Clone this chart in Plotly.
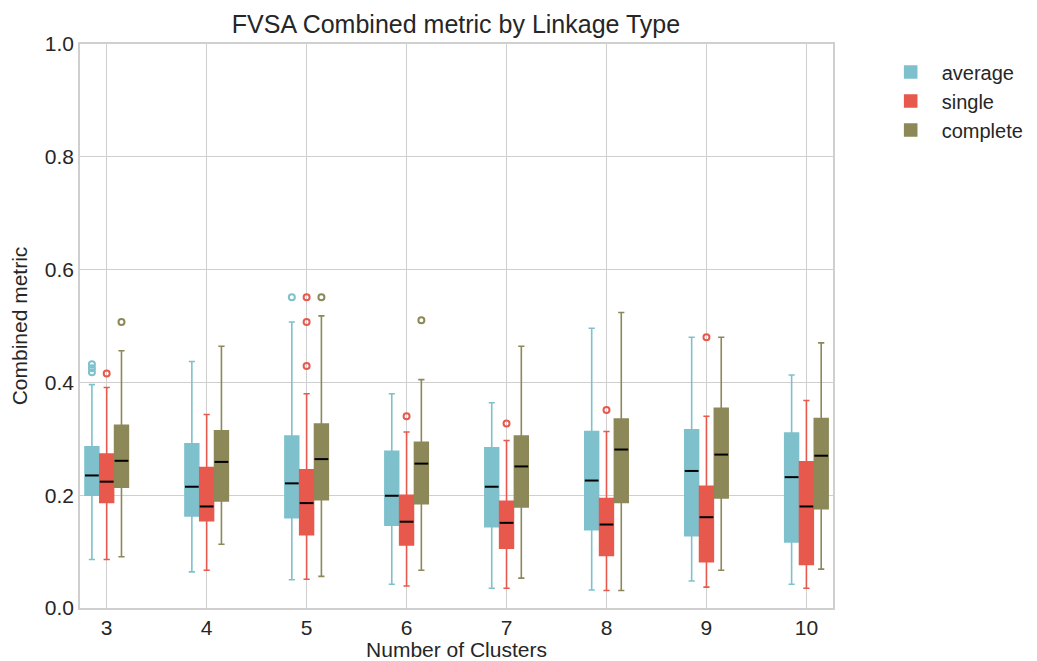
import plotly.graph_objects as go

clusters = [3, 4, 5, 6, 7, 8, 9, 10]
linkages = ["average", "single", "complete"]
colors = {"average": "#7EC1CD", "single": "#E8594D", "complete": "#8C8858"}

# five-number summaries per linkage (one value per cluster count)
avg_low = [0.086, 0.064, 0.050, 0.042, 0.035, 0.032, 0.048, 0.042]
avg_q1 = [0.200, 0.163, 0.160, 0.147, 0.144, 0.139, 0.128, 0.117]
avg_med = [0.235, 0.215, 0.221, 0.199, 0.215, 0.226, 0.243, 0.232]
avg_q3 = [0.286, 0.291, 0.305, 0.278, 0.284, 0.313, 0.316, 0.310]
avg_high = [0.396, 0.437, 0.507, 0.380, 0.364, 0.496, 0.480, 0.413]

sgl_low = [0.086, 0.067, 0.051, 0.039, 0.035, 0.031, 0.037, 0.035]
sgl_q1 = [0.187, 0.155, 0.130, 0.112, 0.106, 0.093, 0.082, 0.077]
sgl_med = [0.224, 0.180, 0.186, 0.153, 0.151, 0.148, 0.161, 0.180]
sgl_q3 = [0.273, 0.249, 0.245, 0.200, 0.189, 0.194, 0.216, 0.259]
sgl_high = [0.391, 0.343, 0.380, 0.312, 0.297, 0.313, 0.340, 0.368]

cmp_low = [0.091, 0.113, 0.056, 0.067, 0.053, 0.031, 0.067, 0.069]
cmp_q1 = [0.214, 0.190, 0.192, 0.185, 0.179, 0.187, 0.195, 0.176]
cmp_med = [0.261, 0.259, 0.264, 0.256, 0.251, 0.281, 0.272, 0.270]
cmp_q3 = [0.324, 0.314, 0.326, 0.294, 0.305, 0.335, 0.354, 0.336]
cmp_high = [0.456, 0.464, 0.518, 0.405, 0.464, 0.524, 0.480, 0.470]

# outliers: (cluster count, value)
avg_out_k = [3, 3, 3, 5]
avg_out_v = [0.432, 0.425, 0.418, 0.551]
sgl_out_k = [3, 5, 5, 5, 6, 7, 8, 9]
sgl_out_v = [0.416, 0.551, 0.507, 0.429, 0.340, 0.327, 0.351, 0.480]
cmp_out_k = [3, 5, 6]
cmp_out_v = [0.507, 0.551, 0.510]

stats = {
    "average": (avg_low, avg_q1, avg_med, avg_q3, avg_high, avg_out_k, avg_out_v),
    "single": (sgl_low, sgl_q1, sgl_med, sgl_q3, sgl_high, sgl_out_k, sgl_out_v),
    "complete": (cmp_low, cmp_q1, cmp_med, cmp_q3, cmp_high, cmp_out_k, cmp_out_v),
}

offsets = {"average": -0.148, "single": 0.0, "complete": 0.148}
box_w = 0.138

FONT = "Liberation Sans, Arial, sans-serif"
fig = go.Figure()

for name in linkages:
    low, q1, med, q3, high, ok, ov = stats[name]
    off = offsets[name]
    xs = [c + off for c in clusters]
    col = colors[name]
    fig.add_trace(go.Box(
        name=name, x=xs, q1=q1, median=med, q3=q3,
        lowerfence=low, upperfence=high,
        width=box_w, fillcolor=col,
        line=dict(color=col, width=1.6),
        whiskerwidth=0.45, boxpoints=False,
        legendgroup=name, showlegend=True, hoverinfo="skip",
    ))
    # black median lines
    mx, my = [], []
    for x, m in zip(xs, med):
        mx += [x - box_w / 2, x + box_w / 2, None]
        my += [m, m, None]
    fig.add_trace(go.Scatter(
        x=mx, y=my, mode="lines", line=dict(color="black", width=2),
        showlegend=False, legendgroup=name, hoverinfo="skip",
    ))
    # outliers
    fig.add_trace(go.Scatter(
        x=[k + off for k in ok], y=ov, mode="markers",
        marker=dict(symbol="circle-open", size=6, color=col, line=dict(width=2, color=col)),
        showlegend=False, legendgroup=name, hoverinfo="skip",
    ))

W, H = 1029, 653  # page body adds an 8px margin
grid_col = "#cfcfcf"
fig.update_layout(
    width=W, height=H,
    margin=dict(l=72, r=204, t=36, b=53, autoexpand=False),
    paper_bgcolor="white", plot_bgcolor="white",
    boxmode="overlay",
    font=dict(family=FONT, size=21, color="#262626"),
    title=dict(text="FVSA Combined metric by Linkage Type", x=448 / W, xanchor="center",
               xref="container", y=1 - 16 / H, yref="container", yanchor="middle",
               font=dict(size=25, color="#262626")),
    legend=dict(x=1.062, y=0.985, xanchor="left", yanchor="top",
                font=dict(size=20, color="#262626"), bgcolor="rgba(0,0,0,0)",
                tracegroupgap=0, itemwidth=52),
    showlegend=True,
)
fig.update_xaxes(
    range=[2.733, 10.266], tickmode="array", tickvals=clusters,
    ticktext=[str(c) for c in clusters],
    showgrid=True, gridcolor=grid_col, gridwidth=1,
    showline=True, linecolor=grid_col, linewidth=1.5, mirror=True,
    zeroline=False, ticks="", tickfont=dict(size=21), automargin=False,
    title=dict(text="Number of Clusters", font=dict(size=21), standoff=6),
)
fig.update_yaxes(
    range=[0, 1], tickmode="linear", tick0=0, dtick=0.2, tickformat=".1f",
    showgrid=True, gridcolor=grid_col, gridwidth=1,
    showline=True, linecolor=grid_col, linewidth=1.5, mirror=True,
    zeroline=False, ticks="", tickfont=dict(size=21), automargin=False,
    title=dict(text="Combined metric", font=dict(size=21), standoff=20),
)

fig.write_html("out.html")
